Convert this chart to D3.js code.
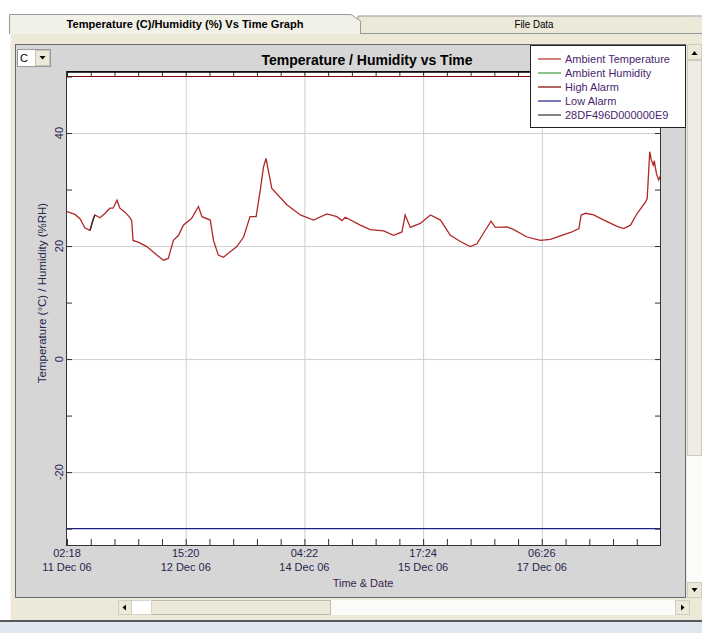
<!DOCTYPE html>
<html><head><meta charset="utf-8">
<script src="https://cdn.jsdelivr.net/npm/d3@7"></script>
<style>
body{margin:0;background:#fff;}
svg{display:block;font-family:"Liberation Sans",Arial,sans-serif;}
</style>
</head><body>
<svg id="c" width="702" height="633"></svg>
<script>
// ---------------- DATA ----------------
const startTime = "2006-12-11T02:18";
const spanHours = 185;
const tempHours = [0,2.5,4.1,5.6,7.2,8.1,8.7,10.3,11.9,13.4,14.4,15.6,16.5,18.1,19.7,20.2,20.6,22.2,24.9,28.0,30.1,31.6,33.2,34.8,36.3,38.9,41.0,42.1,44.7,45.7,47.2,48.8,50.9,53.0,55.1,57.1,59.0,60.3,61.3,62.1,62.9,63.9,68.6,72.8,76.9,81.1,84.2,85.8,86.8,91.5,94.6,98.8,101.9,104.5,105.5,107.1,110.2,113.4,116.5,119.6,122.7,125.8,127.9,130.5,132.3,133.6,137.3,139.4,143.5,147.7,150.8,153.9,157.1,159.7,160.4,161.8,164.3,167.5,171.6,173.7,175.8,177.9,180.5,181.0,181.8,182.3,182.9,183.2,183.9,184.6,185.0];
const tempValues = [26.1,25.6,24.8,23.2,22.8,24.6,25.5,25.0,25.8,26.7,26.7,28.1,26.7,26.0,25.0,24.4,21.0,20.7,19.9,18.4,17.5,17.8,21.0,21.9,23.7,24.9,27.0,25.2,24.6,21.0,18.4,18.0,19.0,19.9,21.6,25.2,25.2,29.9,34.0,35.5,33.1,30.2,27.3,25.5,24.6,25.7,25.2,24.5,25.1,23.7,22.9,22.7,21.9,22.5,25.5,23.3,24.0,25.5,24.6,21.9,20.8,19.9,20.4,22.8,24.4,23.3,23.4,22.9,21.6,21.0,21.2,21.8,22.4,23.1,25.5,25.8,25.5,24.6,23.5,23.1,23.7,25.8,27.8,28.4,36.7,35.2,34.3,35.1,32.8,31.7,32.3];
const probeHours = [7.2,8.1,8.7];
const probeValues = [22.8,24.6,25.5];
const highAlarm = 50;
const lowAlarm = -30;
const yDomain = [-32.9, 50.8];
const yLabelValues = [-20, 0, 20, 40];
const yTickValues = [-30, -20, -10, 0, 10, 20, 30, 40, 50];
const xTickTimes = ["2006-12-11T02:18","2006-12-12T15:20","2006-12-14T04:22","2006-12-15T17:24","2006-12-17T06:26"];
const xMinorPerMajor = 5;
const legendNames = ["Ambient Temperature","Ambient Humidity","High Alarm","Low Alarm","28DF496D000000E9"];
const legendColors = ["#b02828","#3c9a3c","#800000","#20208c","#303030"];
const titleText = "Temperature / Humidity vs Time";
const yTitle = "Temperature (°C) / Humidity (%RH)";
const xTitle = "Time & Date";
const tabLabels = ["Temperature (C)/Humidity (%) Vs Time Graph","File Data"];

// ---------------- DRAW ----------------
const svg = d3.select("#c");
const W = 702, H = 633;
svg.append("rect").attr("width",W).attr("height",H).attr("fill","#fff");

// tab control body
svg.append("rect").attr("x",10).attr("y",33).attr("width",692).attr("height",588).attr("fill","#ece9d8");
svg.append("line").attr("x1",10).attr("x2",10).attr("y1",33).attr("y2",621).attr("stroke","#fff");
// tab 2
svg.append("path").attr("d","M358,33 V16 H702").attr("fill","#ece9d8").attr("stroke","#919b9c");
svg.append("rect").attr("x",359).attr("y",17).attr("width",343).attr("height",16).attr("fill","#ece9d8");
svg.append("line").attr("x1",358).attr("x2",702).attr("y1",33.5).attr("y2",33.5).attr("stroke","#919b9c");
// tab 1
svg.append("path").attr("d","M9.5,34 V14.5 H351 L360.5,21 V34").attr("fill","#f2f1e8").attr("stroke","#919b9c");
svg.append("text").attr("x",185).attr("y",28).attr("text-anchor","middle")
  .attr("font-size",11).attr("font-weight","bold").attr("fill","#000")
  .attr("textLength",237).attr("lengthAdjust","spacingAndGlyphs").text(tabLabels[0]);
svg.append("text").attr("x",534).attr("y",28).attr("text-anchor","middle")
  .attr("font-size",11).attr("fill","#000")
  .attr("textLength",39).attr("lengthAdjust","spacingAndGlyphs").text(tabLabels[1]);

// bottom status strip
svg.append("rect").attr("x",0).attr("y",620).attr("width",W).attr("height",2).attr("fill","#5a5a5a");
svg.append("rect").attr("x",0).attr("y",622).attr("width",W).attr("height",11).attr("fill","#dfe7f1");

// chart panel
svg.append("rect").attr("x",15.5).attr("y",44.5).attr("width",670).attr("height",553)
  .attr("fill","#d6d6d6").attr("stroke","#6a6a6a");

// vertical scrollbar
const vs = svg.append("g");
vs.append("rect").attr("x",687).attr("y",44).attr("width",15).attr("height",554).attr("fill","#fbfbf7");
vs.append("rect").attr("x",687.5).attr("y",60.5).attr("width",14).attr("height",395).attr("fill","#efede3").attr("stroke","#cfccc0");
vs.append("rect").attr("x",687.5).attr("y",44.5).attr("width",14).attr("height",15).attr("fill","#ece9d8").attr("stroke","#cfccc0");
vs.append("rect").attr("x",687.5).attr("y",582.5).attr("width",14).attr("height",15).attr("fill","#ece9d8").attr("stroke","#cfccc0");
vs.append("path").attr("d","M691.5,55 L697.5,55 L694.5,51 Z").attr("fill","#000");
vs.append("path").attr("d","M691.5,588 L697.5,588 L694.5,592 Z").attr("fill","#000");

// horizontal scrollbar
const hs = svg.append("g");
hs.append("rect").attr("x",118).attr("y",600).attr("width",572).attr("height",15).attr("fill","#fbfbf8");
hs.append("rect").attr("x",151.5).attr("y",600.5).attr("width",179).attr("height",14).attr("fill","#ece9d8").attr("stroke","#bdbab0");
hs.append("rect").attr("x",131.5).attr("y",600.5).attr("width",20).attr("height",14).attr("fill","#fff").attr("stroke","#d8d6cc");
hs.append("rect").attr("x",118.5).attr("y",600.5).attr("width",13).attr("height",14).attr("fill","#ece9d8").attr("stroke","#cfccc0");
hs.append("rect").attr("x",675.5).attr("y",600.5).attr("width",14).attr("height",14).attr("fill","#ece9d8").attr("stroke","#cfccc0");
hs.append("path").attr("d","M126,604.5 L126,610.5 L122.5,607.5 Z").attr("fill","#000");
hs.append("path").attr("d","M681,604.5 L681,610.5 L684.5,607.5 Z").attr("fill","#000");

// dropdown "C"
svg.append("rect").attr("x",17.5).attr("y",49.5).attr("width",33).attr("height",17).attr("fill","#fff").attr("stroke","#9a9a9a");
svg.append("rect").attr("x",35.5).attr("y",50.5).attr("width",14).attr("height",15).attr("fill","#ece9d8").attr("stroke","#c8c5b8");
svg.append("path").attr("d","M39.5,56 L45.5,56 L42.5,59.5 Z").attr("fill","#000");
svg.append("text").attr("x",20).attr("y",62).attr("font-size",11).attr("fill","#000").text("C");

// plot
const m = {l:67, t:72, r:660, b:545};
const parse = d3.timeParse("%Y-%m-%dT%H:%M");
const t0 = parse(startTime);
const t1 = new Date(+t0 + spanHours*3600e3);
const x = d3.scaleTime().domain([t0,t1]).range([m.l,m.r]);
const y = d3.scaleLinear().domain(yDomain).range([m.b,m.t]);
const xMajor = xTickTimes.map(parse);
const majorStep = +xMajor[1] - +xMajor[0];
const xMinor = d3.range(0, 40).map(i => new Date(+t0 + i*majorStep/xMinorPerMajor)).filter(d => d < t1);

svg.append("rect").attr("x",m.l).attr("y",m.t).attr("width",m.r-m.l).attr("height",m.b-m.t).attr("fill","#fff");

// gridlines
const gx = svg.append("g").attr("transform",`translate(0,${m.b})`)
  .call(d3.axisBottom(x).tickValues(xMajor.slice(1)).tickSize(-(m.b-m.t)).tickFormat(""));
gx.select(".domain").remove();
gx.selectAll("line").attr("stroke","#cfcfcf");
const gy = svg.append("g").attr("transform",`translate(${m.l},0)`)
  .call(d3.axisLeft(y).tickValues(yLabelValues).tickSize(-(m.r-m.l)).tickFormat(""));
gy.select(".domain").remove();
gy.selectAll("line").attr("stroke","#cfcfcf");

// clip
svg.append("clipPath").attr("id","pc").append("rect").attr("x",m.l).attr("y",m.t).attr("width",m.r-m.l).attr("height",m.b-m.t);
const plot = svg.append("g").attr("clip-path","url(#pc)");

// alarms
plot.append("line").attr("x1",m.l).attr("x2",m.r).attr("y1",y(highAlarm)).attr("y2",y(highAlarm)).attr("stroke",legendColors[2]).attr("stroke-width",1.2);
plot.append("line").attr("x1",m.l).attr("x2",m.r).attr("y1",y(lowAlarm)).attr("y2",y(lowAlarm)).attr("stroke",legendColors[3]).attr("stroke-width",1.2);

const line = d3.line().x(d=>x(d.t)).y(d=>y(d.v));
const tempData = tempHours.map((h,i)=>({t:new Date(+t0 + h*3600e3), v:tempValues[i]}));
const probeData = probeHours.map((h,i)=>({t:new Date(+t0 + h*3600e3), v:probeValues[i]}));
plot.append("path").datum(tempData).attr("d",line).attr("fill","none").attr("stroke",legendColors[0]).attr("stroke-width",1.3);
plot.append("path").datum(probeData).attr("d",line).attr("fill","none").attr("stroke",legendColors[4]).attr("stroke-width",1.3);

// ticks (inward)
function styleTicks(g){ g.select(".domain").remove(); g.selectAll("line").attr("stroke","#303030"); }
svg.append("g").attr("transform",`translate(0,${m.b})`).call(d3.axisBottom(x).tickValues(xMinor).tickSize(-6).tickFormat("")).call(styleTicks);
svg.append("g").attr("transform",`translate(0,${m.t})`).call(d3.axisTop(x).tickValues(xMinor).tickSize(-5).tickFormat("")).call(styleTicks);
svg.append("g").attr("transform",`translate(${m.l},0)`).call(d3.axisLeft(y).tickValues(yTickValues).tickSize(-5).tickFormat("")).call(styleTicks);
svg.append("g").attr("transform",`translate(${m.r},0)`).call(d3.axisRight(y).tickValues(yTickValues).tickSize(-5).tickFormat("")).call(styleTicks);

// frame
svg.append("rect").attr("x",m.l-0.5).attr("y",m.t-0.5).attr("width",m.r-m.l+1).attr("height",m.b-m.t+1)
  .attr("fill","none").attr("stroke","#333");
svg.append("line").attr("x1",m.l).attr("x2",m.r).attr("y1",m.t).attr("y2",m.t).attr("stroke","#000").attr("stroke-width",1.5);

// tick labels
const labColor = "#26264e";
const fmtT = d3.timeFormat("%H:%M"), fmtD = d3.timeFormat("%d %b %y");
const xl = svg.append("g").selectAll("text").data(xMajor).join("text")
  .attr("x",d=>x(d)).attr("text-anchor","middle").attr("font-size",11).attr("fill",labColor);
xl.append("tspan").attr("x",d=>x(d)).attr("y",557).text(d=>fmtT(d));
xl.append("tspan").attr("x",d=>x(d)).attr("y",571).text(d=>fmtD(d));

svg.append("g").selectAll("text").data(yLabelValues).join("text")
  .attr("transform",d=>`translate(63,${y(d)}) rotate(-90)`).attr("text-anchor","middle")
  .attr("font-size",11).attr("fill",labColor).text(d=>d);

// titles
svg.append("text").attr("x",367).attr("y",65).attr("text-anchor","middle").attr("font-size",14).attr("font-weight","bold").attr("fill","#000").text(titleText);
svg.append("text").attr("transform","translate(46,293) rotate(-90)").attr("text-anchor","middle").attr("font-size",11.5).attr("fill",labColor).text(yTitle);
svg.append("text").attr("x",363).attr("y",587).attr("text-anchor","middle").attr("font-size",11).attr("fill","#3a1e52").text(xTitle);

// legend
const lg = svg.append("g");
lg.append("rect").attr("x",530.5).attr("y",45.5).attr("width",155).attr("height",82).attr("fill","#fff").attr("stroke","#222");
legendNames.forEach((n,i)=>{
  const yy = 59 + i*14;
  lg.append("line").attr("x1",538).attr("x2",561).attr("y1",yy).attr("y2",yy).attr("stroke",legendColors[i]).attr("stroke-width",1.2);
  lg.append("text").attr("x",565).attr("y",yy+4).attr("font-size",11).attr("fill","#4b1f6f").text(n);
});
</script>
</body></html>
